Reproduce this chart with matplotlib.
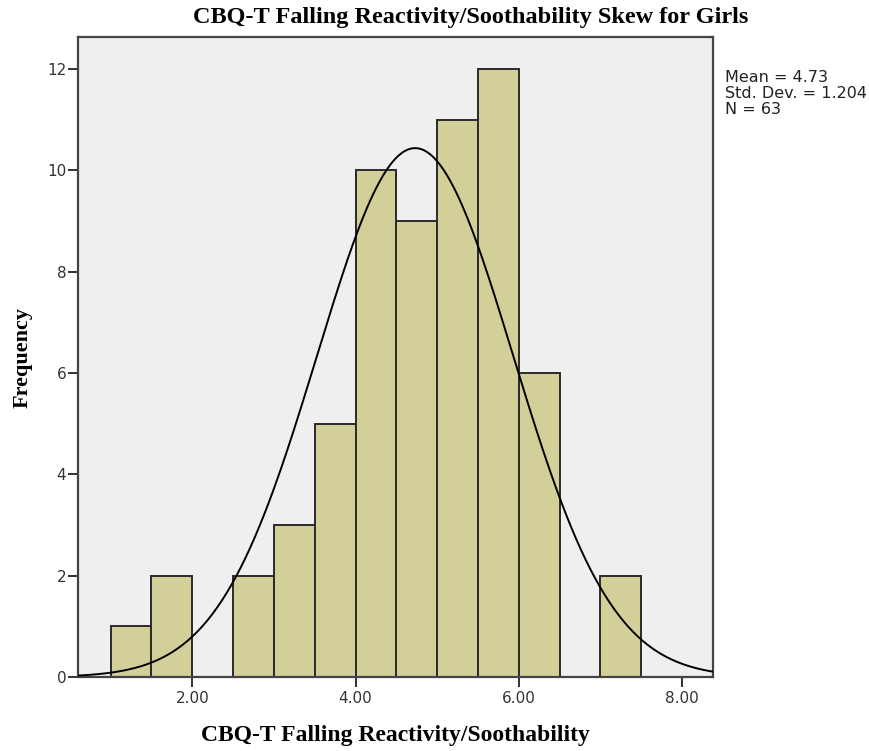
import numpy as np
import matplotlib
matplotlib.use("Agg")
import matplotlib.pyplot as plt

# histogram bins (left edges, width 0.5) and counts
bin_edges = [1.0, 1.5, 2.0, 2.5, 3.0, 3.5, 4.0, 4.5, 5.0, 5.5, 6.0, 6.5, 7.0, 7.5]
counts = [1, 2, 0, 2, 3, 5, 10, 9, 11, 12, 6, 0, 2]

mean = 4.73
std_dev = 1.204
n_obs = 63

x_ticks = [2, 4, 6, 8]
x_tick_labels = ["2.00", "4.00", "6.00", "8.00"]
y_ticks = [0, 2, 4, 6, 8, 10, 12]

serif = ["Liberation Serif", "DejaVu Serif"]
sans = ["DejaVu Sans"]

fig = plt.figure(figsize=(8.69, 7.51), dpi=100)
ax = fig.add_axes([0.0898, 0.0985, 0.7307, 0.8522])
ax.set_facecolor("#efefef")

lefts = np.array(bin_edges[:-1])
widths = np.diff(bin_edges)
for x0, w, c in zip(lefts, widths, counts):
    if c > 0:
        ax.bar(x0, c, width=w, align="edge", color="#d3cf98",
               edgecolor="#2a2a2a", linewidth=1.4, zorder=2)

# fitted normal curve scaled to counts
binw = bin_edges[1] - bin_edges[0]
xs = np.linspace(0.6, 8.4, 400)
ys = n_obs * binw / (std_dev * np.sqrt(2 * np.pi)) * np.exp(-0.5 * ((xs - mean) / std_dev) ** 2)
ax.plot(xs, ys, color="black", linewidth=1.4, zorder=3)

ax.set_xlim(0.6, 8.38)
ax.set_ylim(0, 12.63)
ax.set_xticks(x_ticks)
ax.set_xticklabels(x_tick_labels)
ax.set_yticks(y_ticks)
ax.tick_params(direction="out", length=7, width=1.4, color="#333333",
               labelsize=11, labelcolor="#333333")
ax.tick_params(axis="x", pad=3)
ax.tick_params(axis="y", pad=1.5)
for lbl in ax.get_xticklabels() + ax.get_yticklabels():
    lbl.set_family(sans)
for s in ax.spines.values():
    s.set_linewidth(1.6)
    s.set_color("#444444")

fig.text(471 / 869, 1 - 18 / 751,
         "CBQ-T Falling Reactivity/Soothability Skew for Girls",
         family=serif, fontweight="bold", fontsize=17.5,
         ha="center", va="center")
ax.set_xlabel("CBQ-T Falling Reactivity/Soothability",
              family=serif, fontweight="bold", fontsize=17, labelpad=14)
ax.set_ylabel("Frequency", family=serif, fontweight="bold", fontsize=16,
              labelpad=10)

fig.text(725 / 869, 1 - 70 / 751,
         f"Mean = {mean}\nStd. Dev. = {std_dev}\nN = {n_obs}",
         family=sans, fontsize=11.5, color="#222222",
         va="top", ha="left", linespacing=1.1)

fig.savefig("out.png", dpi=100)
